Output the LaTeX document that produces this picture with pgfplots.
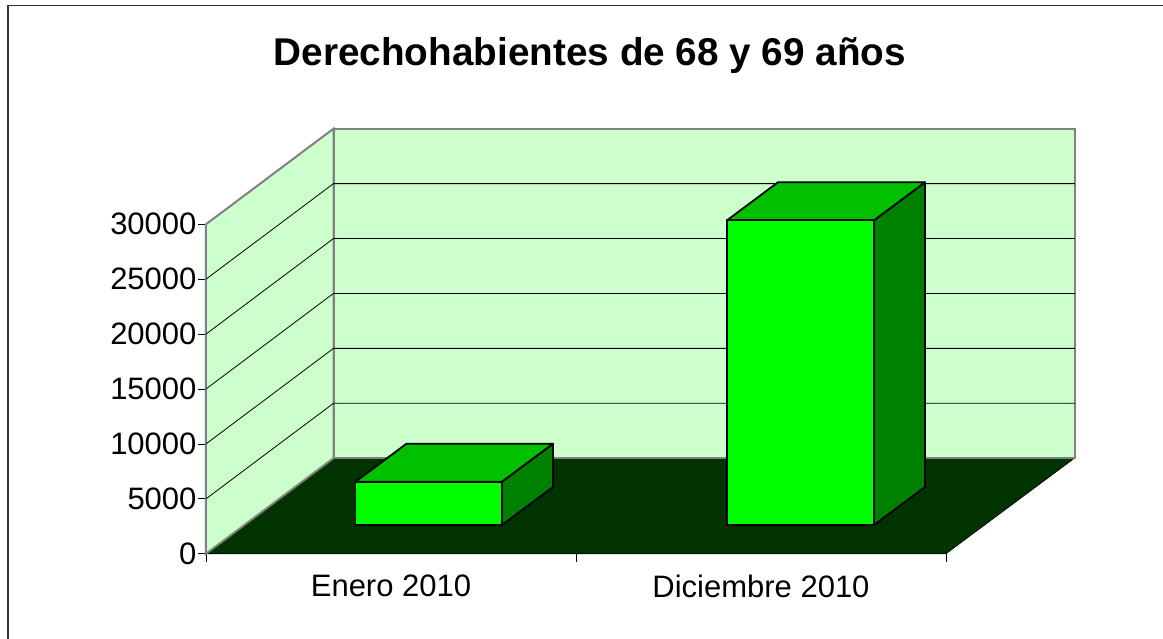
\documentclass[border=0pt]{standalone}
\usepackage{pgfplots}
\pgfplotsset{compat=1.18}
\usepackage{fontspec}
\setmainfont{Liberation Sans}
\definecolor{wall}{HTML}{CCFFCC}
\definecolor{floorc}{HTML}{003300}
\definecolor{barfront}{HTML}{00FF00}
\definecolor{bartop}{HTML}{00C000}
\definecolor{barside}{HTML}{008000}
\definecolor{wallline}{HTML}{808080}
\begin{document}
\begin{tikzpicture}
\path[use as bounding box] (-206pt,-85.25pt) rectangle (957pt,553.75pt);
\begin{axis}[
  at={(0pt,0pt)}, anchor=south west,
  width=740pt, height=329.5pt, scale only axis,
  xmin=0, xmax=2, ymin=0, ymax=30000,
  clip=false,
  axis x line=bottom, axis y line=left,
  x axis line style={-,black,line width=1pt},
  y axis line style={-,black!60,line width=1pt},
  xtick={0,1,2}, xticklabels={Enero 2010,Diciembre 2010},
  x tick label as interval,
  ytick={0,5000,10000,15000,20000,25000,30000},
  scaled y ticks=false,
  /pgf/number format/assume math mode=true,
  /pgf/number format/1000 sep={},
  tick style={black,line width=0.8pt},
  every tick/.style={black,line width=0.8pt},
  major tick length=8pt,
  tick align=outside,
  ticklabel style={font=\fontsize{31}{33}\selectfont,text=black},
  xticklabel style={yshift=-10pt},
  yticklabel style={xshift=2pt},
]
% floor
\addplot[fill=floorc,draw=black,line width=0.6pt] coordinates {(0,0) (2,0) (2.3473,8700) (0.3446,8700)} --cycle;
% back wall
\addplot[fill=wall,draw=wallline,line width=2pt] coordinates {(0.3446,8700) (2.3473,8700) (2.3473,38700) (0.3446,38700)} --cycle;
% side wall
\addplot[fill=wall,draw=wallline,line width=2pt] coordinates {(0,0) (0.3446,8700) (0.3446,38700) (0,30000)} --cycle;
% gridlines on the side wall and back wall
\addplot[black,line width=0.8pt] coordinates {(0,5000) (0.3446,13700) (2.3473,13700)};
\addplot[black,line width=0.8pt] coordinates {(0,10000) (0.3446,18700) (2.3473,18700)};
\addplot[black,line width=0.8pt] coordinates {(0,15000) (0.3446,23700) (2.3473,23700)};
\addplot[black,line width=0.8pt] coordinates {(0,20000) (0.3446,28700) (2.3473,28700)};
\addplot[black,line width=0.8pt] coordinates {(0,25000) (0.3446,33700) (2.3473,33700)};
% bar Enero 2010 (value about 3940)
\addplot[fill=barside,draw=black,line width=1.8pt,line join=round] coordinates {(0.8,2618) (0.9378,6078) (0.9378,10020) (0.8,6558)} --cycle;
\addplot[fill=bartop,draw=black,line width=1.8pt,line join=round] coordinates {(0.4041,6558) (0.8,6558) (0.9378,10020) (0.5419,10020)} --cycle;
\addplot[fill=barfront,draw=black,line width=1.8pt,line join=round] coordinates {(0.4041,2618) (0.8,2618) (0.8,6558) (0.4041,6558)} --cycle;
% bar Diciembre 2010 (value about 27740)
\addplot[fill=barside,draw=black,line width=1.8pt,line join=round] coordinates {(1.8054,2618) (1.9432,6078) (1.9432,33820) (1.8054,30358)} --cycle;
\addplot[fill=bartop,draw=black,line width=1.8pt,line join=round] coordinates {(1.4081,30358) (1.8054,30358) (1.9432,33820) (1.5459,33820)} --cycle;
\addplot[fill=barfront,draw=black,line width=1.8pt,line join=round] coordinates {(1.4081,2618) (1.8054,2618) (1.8054,30358) (1.4081,30358)} --cycle;
\node[font=\bfseries\fontsize{38.7}{42}\selectfont,text=black] at (axis cs:1.0378,45400) {Derechohabientes de 68 y 69 años};
\end{axis}
\draw[black!80,line width=1.5pt] (-198pt,-85.25pt) -- (-198pt,548.25pt) -- (957pt,548.25pt);
\end{tikzpicture}
\end{document}
